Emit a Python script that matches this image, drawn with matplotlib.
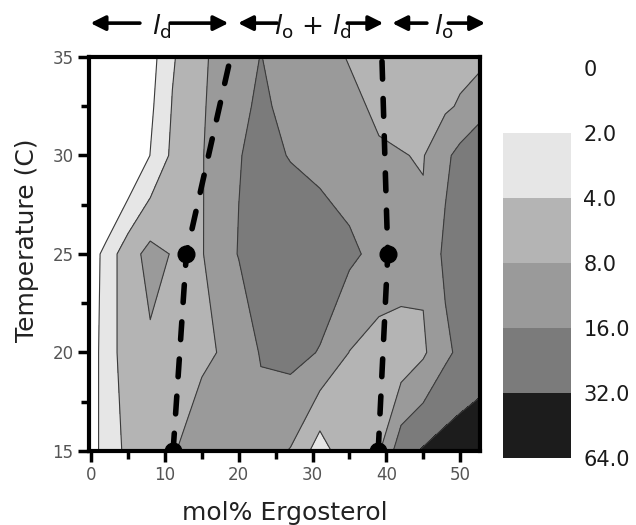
import numpy as np
import matplotlib
matplotlib.use("Agg")
import matplotlib.pyplot as plt
from matplotlib.colors import ListedColormap, BoundaryNorm
from matplotlib.ticker import MultipleLocator

plt.rcParams["font.family"] = ["DejaVu Sans"]
plt.rcParams["mathtext.fontset"] = "dejavusans"

# measurement grid: mol% ergosterol (columns) and temperature in C (rows)
ergosterol = [0, 2, 5, 8, 11, 15, 20, 23, 27, 31, 35, 39, 42, 45, 48, 50, 52.7]
temperature = [15, 20, 25, 30, 32.5, 35]

# log2 of the measured value at each grid point, one row per temperature
log2_value = [
    [0.5, 1.5, 2.2, 2.6, 2.95, 3.3, 3.5, 3.4, 2.95, 1.5, 2.8, 2.9, 4.6, 5.1, 5.4, 5.5, 5.6],
    [0.5, 1.5, 2.5, 2.85, 2.8, 2.9, 3.15, 4.1, 4.3, 3.95, 2.98, 2.6, 2.3, 2.85, 3.8, 4.2, 4.5],
    [0.4, 1.4, 2.6, 3.3, 2.95, 2.95, 4.05, 4.5, 4.7, 4.6, 4.2, 3.7, 3.8, 3.2, 4.2, 4.4, 4.6],
    [-2.0, -1.9, -0.26, 1.02, 2.2, 2.95, 3.95, 4.3, 3.95, 3.7, 3.5, 3.1, 3.03, 2.95, 3.8, 4.3, 4.6],
    [-1.5, -1.0, 0.2, 0.8, 2.05, 2.9, 3.8, 4.15, 3.75, 3.5, 3.2, 2.85, 2.75, 2.7, 2.85, 3.1, 3.7],
    [0.3, 0.4, 0.6, 0.6, 1.9, 2.85, 3.68, 4.02, 3.6, 3.3, 2.95, 2.7, 2.6, 2.5, 2.7, 2.7, 2.7],
]

# contour levels (log2) and their labels on the colour bar
level_bounds = [-3, 1, 2, 3, 4, 5, 6]
level_labels = ["0", "2.0", "4.0", "8.0", "16.0", "32.0", "64.0"]
level_colors = ["#ffffff", "#e6e6e6", "#b4b4b4", "#9a9a9a", "#7b7b7b", "#1c1c1c"]

# phase boundaries (dashed) and the points marked on them
left_boundary_x = [11.1, 12.9, 18.9]
left_boundary_t = [15, 25, 35]
right_boundary_x = [38.9, 40.2, 39.4]
right_boundary_t = [15, 25, 35]
marker_x = [11.1, 12.9, 38.9, 40.2]
marker_t = [15, 25, 15, 25]

fig = plt.figure(figsize=(6.36, 5.25), dpi=100)
ax = fig.add_axes([89 / 636, 1 - 451 / 525, 391 / 636, 394 / 525])

X, Y = np.meshgrid(ergosterol, temperature)
Z = np.array(log2_value)
cmap = ListedColormap(level_colors)
norm = BoundaryNorm(level_bounds, cmap.N)
cf = ax.contourf(X, Y, Z, levels=level_bounds, cmap=cmap, norm=norm, zorder=1)
ax.contour(X, Y, Z, levels=level_bounds[1:-1], colors="#3a3a3a", linewidths=0.8, zorder=2)

dash = (0, (3.2, 3.5))
for xs, ts in [(left_boundary_x, left_boundary_t), (right_boundary_x, right_boundary_t)]:
    ax.plot(xs, ts, color="black", lw=4, linestyle=dash, dash_capstyle="round", zorder=5)
ax.plot(marker_x, marker_t, "o", color="black", ms=12, zorder=6)

ax.set_xlim(-0.3, 52.7)
ax.set_ylim(15, 35)
ax.xaxis.set_major_locator(MultipleLocator(10))
ax.xaxis.set_minor_locator(MultipleLocator(5))
ax.yaxis.set_major_locator(MultipleLocator(5))
ax.yaxis.set_minor_locator(MultipleLocator(2.5))
ax.tick_params(which="major", direction="out", length=8, width=2.5, color="black",
               labelcolor="#555555", labelsize=12, pad=3)
ax.tick_params(which="minor", direction="out", length=6, width=2.5, color="black")
for sp in ax.spines.values():
    sp.set_linewidth(3)
    sp.set_zorder(7)

ax.set_xlabel("mol% Ergosterol", fontsize=18, color="#222222", labelpad=12)
ax.set_ylabel("Temperature (C)", fontsize=18, color="#222222", labelpad=10, y=0.535)

# phase labels with arrows above the plot
xt = ax.get_xaxis_transform()
arrow_y = 1.086
text_y = 1.058
arrows = [(6.6, -0.1), (10.7, 18.6), (25.2, 19.9), (34.7, 39.6), (45.5, 40.8), (48.4, 53.4)]
for tail, tip in arrows:
    ax.annotate("", xy=(tip, arrow_y), xytext=(tail, arrow_y), xycoords=xt, textcoords=xt,
                annotation_clip=False,
                arrowprops=dict(arrowstyle="-|>", color="black", lw=2.6,
                                mutation_scale=22, shrinkA=0, shrinkB=0))
phase_text = [(9.5, r"$\mathit{l}_\mathrm{d}$"),
              (30.1, r"$\mathit{l}_\mathrm{o}$ + $\mathit{l}_\mathrm{d}$"),
              (47.8, r"$\mathit{l}_\mathrm{o}$")]
for x, s in phase_text:
    ax.text(x, text_y, s, transform=xt, ha="center", va="baseline", fontsize=19, color="#111111")

# colour bar
cax = fig.add_axes([503 / 636, 1 - 458 / 525, 68 / 636, 390 / 525])
cbar = fig.colorbar(cf, cax=cax, spacing="uniform", ticks=level_bounds)
cbar.ax.set_yticklabels(level_labels)
cbar.ax.invert_yaxis()
cbar.outline.set_visible(False)
cbar.ax.tick_params(length=0, pad=9, labelsize=15, labelcolor="#1a1a1a")

fig.savefig("out.png", dpi=100)
